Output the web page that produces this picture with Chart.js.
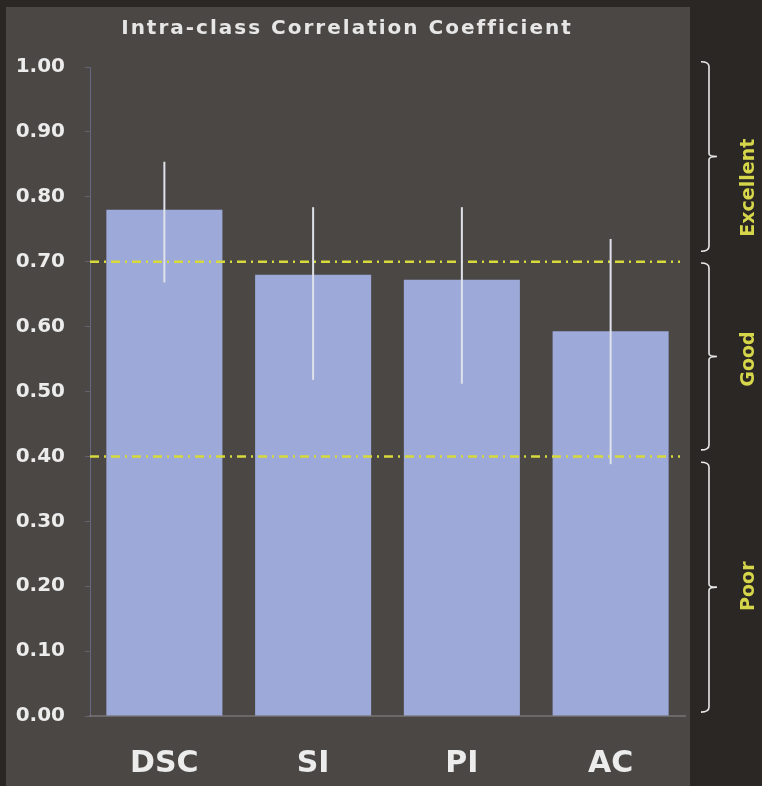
<!DOCTYPE html>
<html>
<head>
<meta charset="utf-8">
<script src="https://cdn.jsdelivr.net/npm/chart.js@4/dist/chart.umd.min.js"></script>
<style>
  html, body { margin: 0; padding: 0; background: #2b2725; }
  #wrap { width: 762px; height: 786px; }
</style>
</head>
<body>
<div id="wrap"><canvas id="iccChart" width="762" height="786"></canvas></div>
<script>
    const categories = ['DSC', 'SI', 'PI', 'AC'];
    const iccValues = [0.78, 0.68, 0.672, 0.593];
    const ciLower = [0.668, 0.518, 0.512, 0.388];
    const ciUpper = [0.854, 0.784, 0.784, 0.735];
    const yTicks = [0, 0.1, 0.2, 0.3, 0.4, 0.5, 0.6, 0.7, 0.8, 0.9, 1.0];
    const thresholds = [0.70, 0.40];
    const bandLabels = ['Excellent', 'Good', 'Poor'];
    const bandFrom = [1.008, 0.698, 0.391];
    const bandTo = [0.716, 0.41, 0.006];
    const bandLabelAt = [0.814, 0.55, 0.20];

    const chartTitle = 'Intra-class Correlation Coefficient';
    const boldFont = 'DejaVu Sans';

    // background panel + title
    const backdrop = {
        id: 'backdrop',
        beforeDraw(chart) {
            const c = chart.ctx;
            c.save();
            c.fillStyle = '#2b2725';
            c.fillRect(0, 0, chart.width, chart.height);
            c.fillStyle = '#4b4745';
            c.fillRect(6, 7, 684, chart.height - 7);
            c.fillStyle = '#e6e6e6';
            c.font = 'bold 20px "' + boldFont + '"';
            c.letterSpacing = '2px';
            c.textAlign = 'center';
            c.textBaseline = 'middle';
            c.fillText(chartTitle, 347, 29);
            c.restore();
        }
    };

    // dash-dot threshold lines, error bars, braces
    const overlays = {
        id: 'overlays',
        afterDatasetsDraw(chart) {
            const c = chart.ctx;
            const x = chart.scales.x;
            const y = chart.scales.y;
            const area = chart.chartArea;
            c.save();

            c.strokeStyle = '#d8da3c';
            c.lineWidth = 2.5;
            c.setLineDash([9, 5, 2, 5]);
            thresholds.forEach(function (t) {
                const py = y.getPixelForValue(t);
                c.beginPath();
                c.moveTo(area.left, py);
                c.lineTo(area.right - 5, py);
                c.stroke();
            });
            c.setLineDash([]);

            c.strokeStyle = '#dfe2ea';
            c.lineWidth = 2;
            categories.forEach(function (cat, i) {
                const px = x.getPixelForValue(i);
                c.beginPath();
                c.moveTo(px, y.getPixelForValue(ciUpper[i]));
                c.lineTo(px, y.getPixelForValue(ciLower[i]));
                c.stroke();
            });

            const bx = 709;
            c.strokeStyle = '#e8e8e8';
            c.lineWidth = 1.6;
            c.fillStyle = '#d6d64a';
            c.font = 'bold 19px "' + boldFont + '"';
            c.textAlign = 'center';
            c.textBaseline = 'middle';
            bandLabels.forEach(function (label, i) {
                const y0 = y.getPixelForValue(bandFrom[i]);
                const y1 = y.getPixelForValue(bandTo[i]);
                const ym = (y0 + y1) / 2;
                c.beginPath();
                c.moveTo(bx - 8, y0);
                c.quadraticCurveTo(bx, y0, bx, y0 + 5);
                c.lineTo(bx, ym - 3);
                c.quadraticCurveTo(bx, ym, bx + 8, ym);
                c.quadraticCurveTo(bx, ym, bx, ym + 3);
                c.lineTo(bx, y1 - 5);
                c.quadraticCurveTo(bx, y1, bx - 8, y1);
                c.stroke();

                c.save();
                c.translate(749, y.getPixelForValue(bandLabelAt[i]));
                c.rotate(-Math.PI / 2);
                c.fillText(label, 0, 0);
                c.restore();
            });
            c.restore();
        }
    };

    const ctxIcc = document.getElementById('iccChart').getContext('2d');
    const iccChart = new Chart(ctxIcc, {
        type: 'bar',
        data: {
            labels: categories,
            datasets: [{
                label: 'ICC',
                data: iccValues,
                backgroundColor: '#9da9d8',
                borderWidth: 0,
                categoryPercentage: 0.78,
                barPercentage: 1.0
            }]
        },
        options: {
            responsive: false,
            animation: false,
            devicePixelRatio: 1,
            layout: {
                padding: { left: 0, top: 67, right: 77, bottom: 0 }
            },
            plugins: {
                legend: { display: false },
                tooltip: { enabled: false }
            },
            scales: {
                x: {
                    afterFit: function (scale) { scale.height = 70; },
                    grid: { display: false, drawTicks: false },
                    border: { display: true, color: '#6b6868', width: 2 },
                    ticks: {
                        color: '#ececec',
                        padding: 30,
                        font: { family: boldFont, size: 30, weight: 'bold' }
                    }
                },
                y: {
                    min: 0,
                    max: 1,
                    afterFit: function (scale) { scale.width = 90; },
                    afterBuildTicks: function (scale) {
                        scale.ticks = yTicks.map(function (v) { return { value: v }; });
                    },
                    grid: {
                        drawOnChartArea: false,
                        drawTicks: true,
                        tickLength: 5,
                        color: 'rgba(150,150,185,0.35)'
                    },
                    border: { display: true, color: 'rgba(120,125,170,0.6)', width: 1 },
                    ticks: {
                        color: '#ececec',
                        padding: 20,
                        font: { family: boldFont, size: 20, weight: 'bold' },
                        callback: function (v) { return Number(v).toFixed(2); }
                    }
                }
            }
        },
        plugins: [backdrop, overlays]
    });
</script>
</body>
</html>
